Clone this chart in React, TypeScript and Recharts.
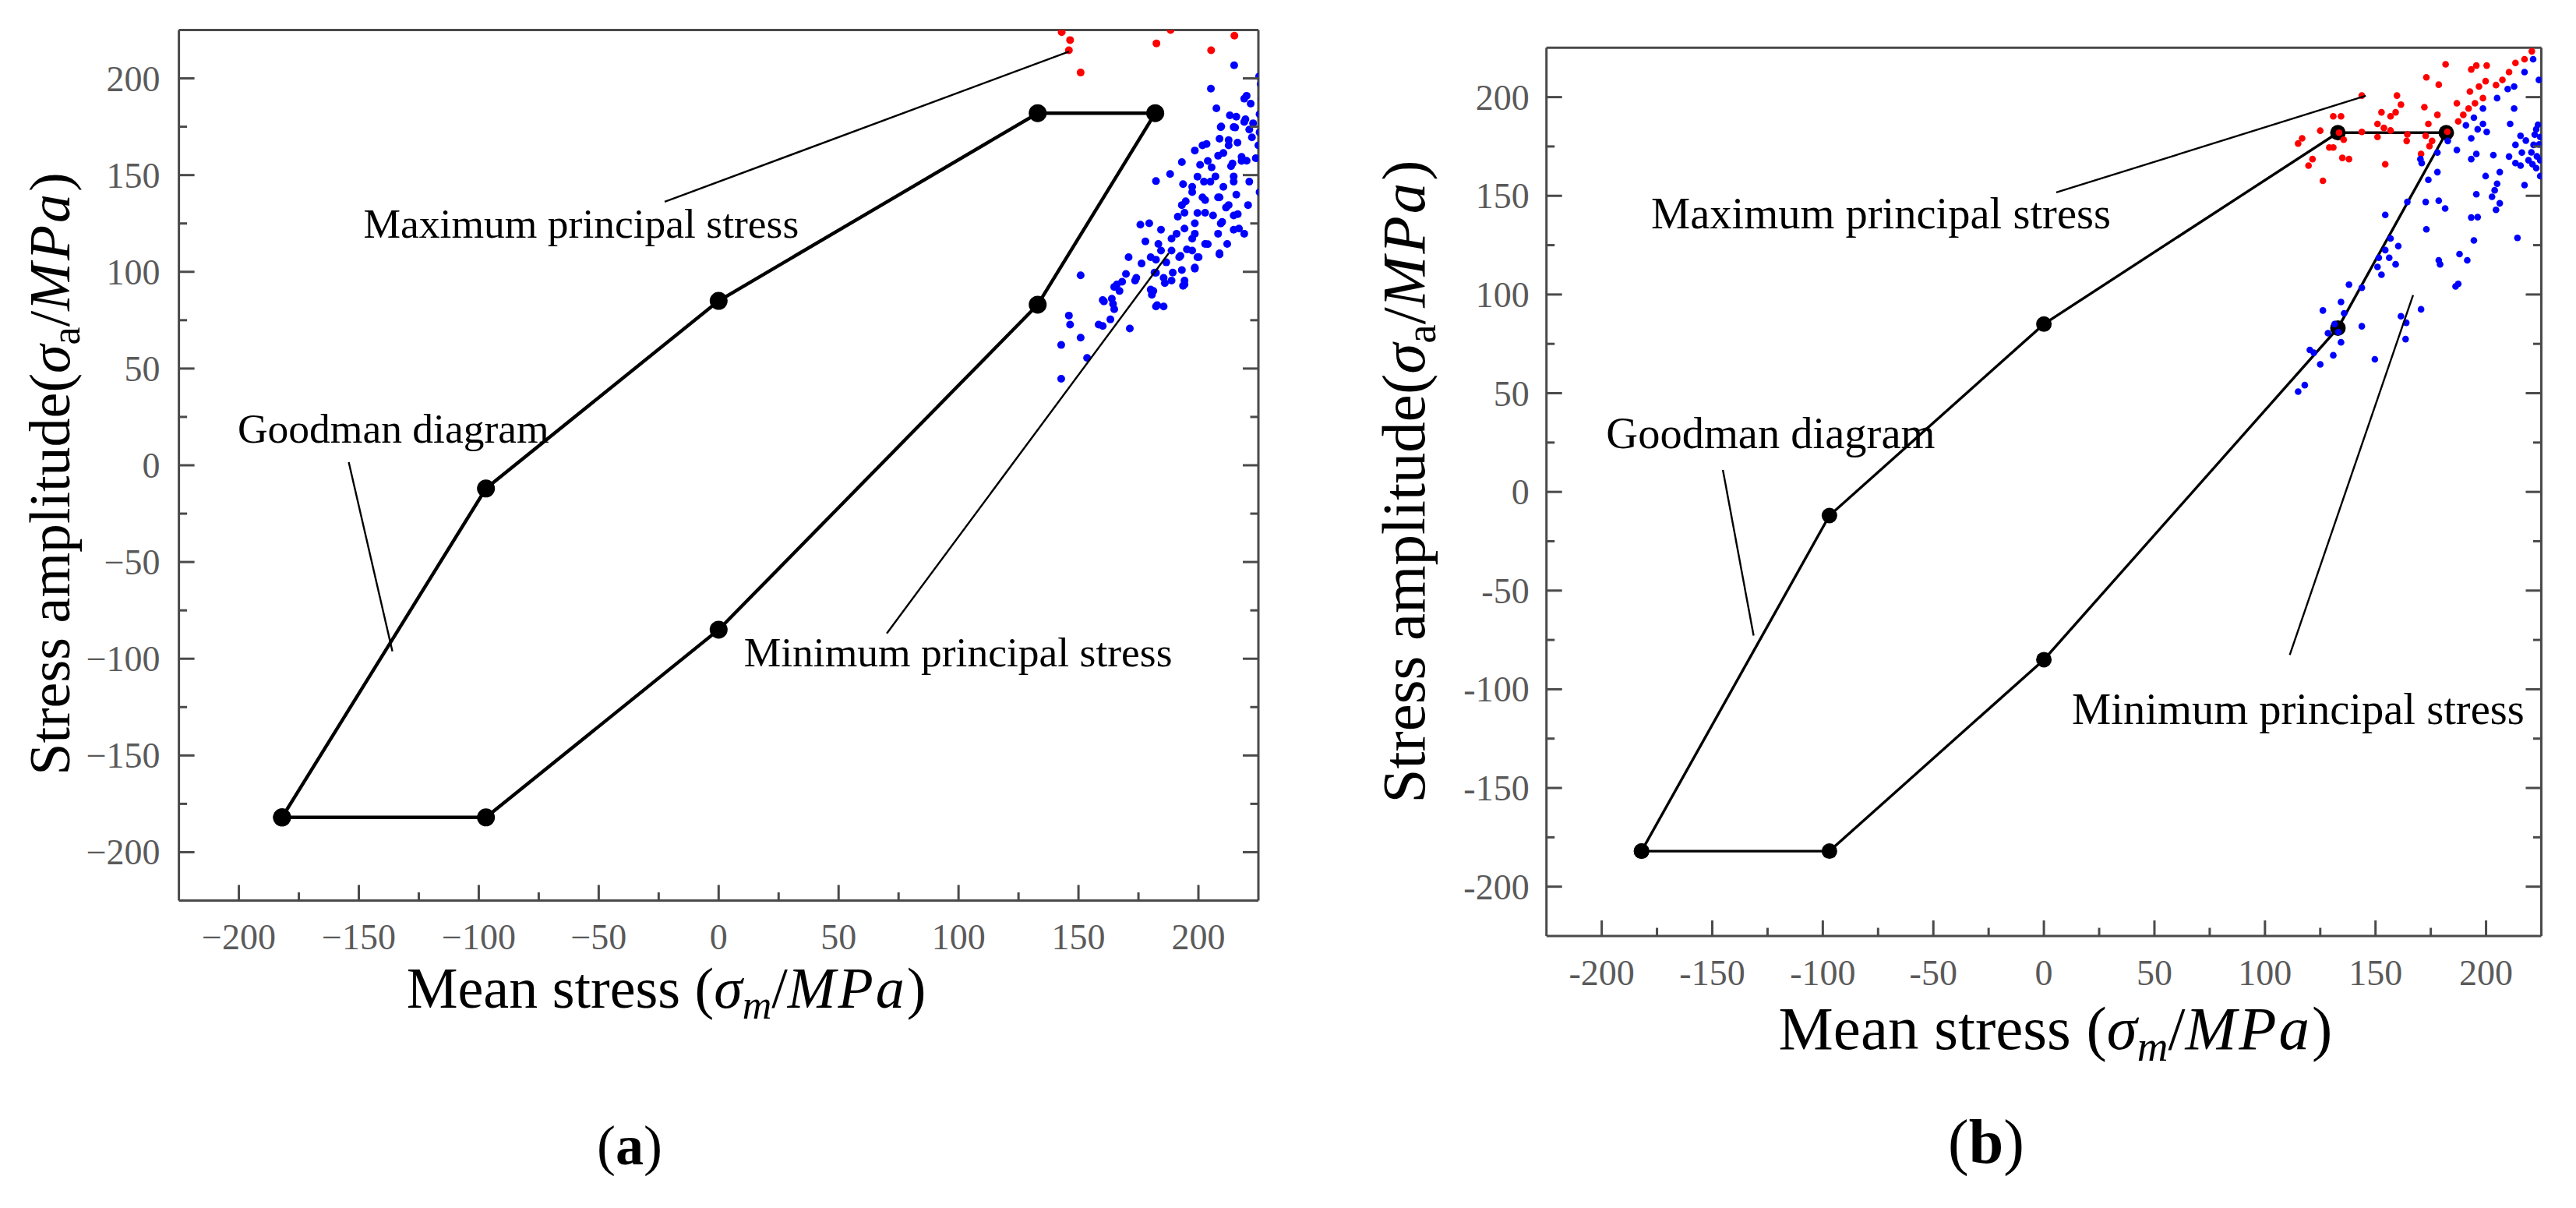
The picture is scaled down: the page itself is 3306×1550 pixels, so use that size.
import React from 'react';
import { ScatterChart, Scatter, XAxis, YAxis, ReferenceLine, ReferenceDot } from 'recharts';

const FONT = '"Liberation Serif", "Times New Roman", serif';

// ---------- axes ----------
const tickValues = [-200, -175, -150, -125, -100, -75, -50, -25, 0, 25, 50, 75, 100, 125, 150, 175, 200];
const majorTickValues = [-200, -150, -100, -50, 0, 50, 100, 150, 200];
const tickLabelsA = ['\u2212200', '\u2212150', '\u2212100', '\u221250', '0', '50', '100', '150', '200'];
const tickLabelsB = ['-200', '-150', '-100', '-50', '0', '50', '100', '150', '200'];

// ---------- Goodman diagram (closed polygon) ----------
const goodmanMean = [-182, -97, 0, 133, 182, 133, 0, -97, -182];
const goodmanAmp = [-182, -182, -85, 83, 182, 182, 85, -12, -182];

// ---------- panel (a) ----------
const maxStressA = [
  [143, 223.9], [146.5, 219.8], [146, 214.5], [150.9, 203], [188.4, 225], [182.5, 218.1], [205.3, 214.5], [215, 222.1],
];
const minStressA = [
  [214.9, 206.8], [225.3, 201], [226, 197], [205.2, 194.7], [220.1, 191], [226.4, 189.3], [221.8, 186.9], [207.5, 184.5],
  [225.5, 181.5], [213.1, 180.9], [215.8, 180.2], [219.6, 178.9], [222.8, 176.8], [209.5, 175.1], [215.3, 174.6], [221.2, 173.5],
  [225.5, 172.1], [203.4, 166.1], [198.5, 162.7], [208.8, 168.8], [212.6, 165.4], [216.3, 166.8], [222.3, 169.5], [225, 165.4],
  [210.4, 161.4], [218, 159.4], [193.1, 156.7], [200.7, 155.3], [205.5, 154], [214.2, 156], [220.1, 157.4], [223.9, 158.7],
  [188.2, 150.6], [182.3, 146.9], [193.6, 145.3], [197.4, 143.9], [202.3, 146.6], [207.1, 149.3], [214.7, 149.3], [221.2, 146.6],
  [225.5, 141.2], [201.7, 138.5], [208.8, 138.5], [215.8, 139.9], [194.7, 136.5], [211.5, 133.2], [220.7, 134.5], [194.2, 130.5],
  [202.8, 130.5], [216.4, 129.8], [175.8, 124.4], [179.5, 125.1], [191.4, 128.5], [198.5, 125.1], [209.9, 125.8], [184.4, 121.8],
  [194.2, 122.4], [214.7, 121.8], [219.1, 119.7], [177.9, 115.7], [183.3, 114.4], [188.8, 117.1], [197.4, 117.1], [202.8, 114.4],
  [208.2, 119.7], [212, 114.4],
  [170.9, 107.6], [176.3, 104.3], [180.1, 107.6], [184.4, 111], [188.8, 111], [192.5, 108.3], [197.4, 111], [200.1, 107.6],
  [208.8, 109], [198.5, 101.6], [150.9, 98.2], [169.8, 98.9], [174.1, 96.9], [168.2, 94.9], [181.7, 99.6], [185.5, 96.9],
  [189.3, 99.6], [194.2, 95.5], [186, 94.2], [164.9, 92.2], [167.1, 90.1], [180.1, 90.8], [180.6, 88.1], [193.6, 92.8],
  [160.1, 85.4], [164.4, 83.4], [164.9, 80.7], [182.8, 82.8], [185.5, 82.1], [146, 77.4], [163.3, 75.4], [146.5, 72.7],
  [160.1, 72], [171.4, 70.7], [150.9, 66], [142.8, 62.2], [153.6, 55.5], [142.8, 44.7],
  [219.1, 189.5], [214.7, 174.8], [209.3, 174.8], [219.1, 177.5], [212.6, 168.1], [201.7, 165.4], [203.9, 157.3], [208.2, 160],
  [213.6, 154.6], [218, 157.3], [199.6, 149.2], [205, 146.6], [210.4, 143.9], [214.7, 146.6], [197.4, 141.2], [202.8, 137.1],
  [208.2, 138.5], [212.6, 134.5], [193.1, 134.5], [199.6, 130.4], [206.1, 129.1], [214.7, 129.1], [216.9, 122.4], [209.3, 125],
  [190.9, 119.7], [198.5, 119.7], [203.9, 114.3], [208.8, 109.6], [195.2, 111.6], [182.3, 106.3], [186.6, 104.9], [192, 107.6],
  [199.6, 107.6], [193.1, 100.9], [198.5, 102.2], [173.6, 95.5], [182.3, 99.5], [188.8, 95.5], [194.2, 93.5], [166, 93.5],
  [181.2, 90.1], [182.3, 82.1], [163.9, 86.1], [160.6, 84.7], [158.4, 72.7],
];

// ---------- panel (b) ----------
const maxStressB = [
  [220.7, 223.2], [217.4, 219.2], [213.3, 217.3], [210.4, 212.7], [207.4, 208.7], [204.5, 206.1], [200.3, 216], [195.6, 216],
  [193.3, 214], [199.8, 208.1], [196.8, 205.4], [192.7, 202.8], [198.6, 199.5], [195, 196.9], [192.1, 194.2], [189.7, 191],
  [187.4, 187.7], [186.8, 196.9], [181.7, 216.6], [173, 210], [178.6, 206.3], [172.1, 194.9], [178, 191], [173.9, 186.4],
  [172.7, 180.4], [175.6, 177.8], [174.4, 175.2], [170.6, 171.2], [164.4, 181.1], [164.1, 177.8], [159.7, 200.8], [161.5, 196.2],
  [159.1, 192.3], [156.8, 190.3], [152.7, 192.3], [150.9, 186.4], [153.8, 184.4], [156.8, 183.1], [150.9, 179.8], [143.8, 182.4],
  [143.8, 200.8], [154.4, 166], [135.6, 178.4], [129.1, 174.5], [130.9, 190.3], [134.4, 190.3], [125, 183], [116.8, 179.1],
  [115, 176.5], [121.5, 168.6], [119.7, 165.3], [135, 169.2], [138, 168.6], [126.2, 157.6], [130.9, 174.5], [133.5, 182],
  [182.5, 182.5],
];
const minStressB = [
  [221.3, 219.2], [223.9, 208.7], [217.4, 212.7], [212.7, 205.4], [209.8, 204.1], [205, 199.5], [212.7, 194.2], [198.6, 194.2],
  [194.5, 189.6], [190.9, 185.7], [198.6, 186.4], [196.2, 183.7], [200.3, 182.4], [210.9, 186.4], [222.7, 183.7], [224.5, 179.8],
  [221.5, 175.8], [215.6, 180.4], [213.3, 175.8], [216.2, 171.9], [219.2, 168], [222.7, 164], [213.3, 166.6], [210.4, 169.9],
  [215.6, 165.3], [224.5, 160], [193.3, 179.1], [182.7, 177.8], [186.8, 173.2], [195.6, 171.2], [193.3, 168.6], [203.3, 170.6],
  [178, 171.9], [170.9, 166.6], [178, 162], [173.9, 158.1], [199.8, 160], [206.2, 162], [205, 156.1], [203.9, 152.8],
  [217.4, 155.4], [195.6, 150.8], [202.7, 149.5], [206.2, 146.2], [204.5, 142.9], [178.6, 147.5], [181.5, 143.6], [172.7, 146.9],
  [164.4, 146.9], [154.4, 140.3], [193.3, 139], [196.2, 139.2], [173, 133], [194.5, 127.4], [214.2, 128.7], [156.8, 128.4],
  [154.4, 122.5], [160.3, 124.5], [151.5, 118.6], [156.2, 118.6], [159.1, 115.3], [150.9, 114], [178.6, 117.3], [179.2, 115.3],
  [188, 120.5], [191.5, 117.3], [152.7, 110], [138, 105], [143.8, 103.4], [186.2, 104.1], [187.4, 105.4], [170.3, 168.6],
  [134.4, 96.2], [126.2, 91.9], [135.8, 90.5], [131.5, 85], [128.5, 80.4], [134.4, 75.8], [120.3, 71.9], [122.1, 70.5],
  [130.9, 69.2], [125, 64.6], [118, 54.1], [115, 50.8], [143.8, 83.9], [149.7, 67.2], [161.5, 89], [163.9, 85.7],
  [163.6, 77.4], [170.6, 92.5], [133.2, 81],
  [223.5, 186], [222, 181], [224, 176], [220.5, 172], [223, 170], [218, 178], [221, 166], [224.5, 168],
];

// ---------- annotations (data coordinates) ----------
const annotationTexts = ['Maximum principal stress', 'Goodman diagram', 'Minimum principal stress'];
const annotationPosA = [[-57.3, 117.8], [-135.6, 11.8], [99.8, -104.1]];
const annotationPosB = [[-73.7, 133.7], [-123.6, 22.1], [115.0, -117.6]];
const leadersA = [[-22.5, 136.2, 146.1, 213.9], [-154.2, 1.6, -136.0, -96.2], [70.1, -86.9, 187.6, 109.6]];
const leadersB = [[5.6, 151.7, 145.6, 200.7], [-145.2, 11.1, -131.3, -72.8], [111.2, -82.6, 167.0, 99.7]];

const toPts = (arr: number[][]) => arr.map(([x, y]) => ({ x, y }));
const polygonPts = goodmanMean.map((x, i) => ({ x, y: goodmanAmp[i] }));

type Style = {
  left: number; width: number;
  margin: { top: number; right: number; bottom: number; left: number };
  labels: string[]; tickFont: number; xLabelDy: number; yLabelDx: number;
  polyR: number; polyW: number; dotR: number; annFont: number; leaderW: number;
};

// margins are 1px smaller than the plot offsets because each axis reserves 1px
const styleA: Style = {
  left: 0, width: 1650,
  margin: { top: 37.5, right: 34, bottom: 393.5, left: 228.6 },
  labels: tickLabelsA, tickFont: 46, xLabelDy: 62, yLabelDx: 24,
  polyR: 11.5, polyW: 4.4, dotR: 5, annFont: 53.5, leaderW: 2.4,
};
const styleB: Style = {
  left: 1653, width: 1653,
  margin: { top: 60.3, right: 43.5, bottom: 348, left: 330.7 },
  labels: tickLabelsB, tickFont: 46, xLabelDy: 63, yLabelDx: 22,
  polyR: 10, polyW: 3.4, dotR: 4.3, annFont: 56.5, leaderW: 2.4,
};

const AX = '#4a4a4a';
const LABEL = '#5a5a5a';
const MAJOR = 20;
const MINOR = 10.5;

function makeTick(side: 'bottom' | 'top' | 'left' | 'right', st: Style) {
  return (props: any) => {
    const { x, y, payload } = props;
    const v = payload.value;
    const mi = majorTickValues.indexOf(v);
    const len = mi >= 0 ? MAJOR : MINOR;
    let line;
    let label = null;
    if (side === 'bottom') {
      line = <line x1={x} y1={y} x2={x} y2={y - len} stroke={AX} strokeWidth={3} />;
      if (mi >= 0)
        label = (
          <text x={x} y={y + st.xLabelDy} textAnchor="middle" fontSize={st.tickFont} fill={LABEL} fontFamily={FONT}>
            {st.labels[mi]}
          </text>
        );
    } else if (side === 'top') {
      line = <line x1={x} y1={y} x2={x} y2={y + len} stroke={AX} strokeWidth={3} />;
    } else if (side === 'left') {
      line = <line x1={x} y1={y} x2={x + len} y2={y} stroke={AX} strokeWidth={3} />;
      if (mi >= 0)
        label = (
          <text x={x - st.yLabelDx} y={y + 16} textAnchor="end" fontSize={st.tickFont} fill={LABEL} fontFamily={FONT}>
            {st.labels[mi]}
          </text>
        );
    } else {
      line = <line x1={x} y1={y} x2={x - len} y2={y} stroke={AX} strokeWidth={3} />;
    }
    return (
      <g>
        {line}
        {label}
      </g>
    );
  };
}

const dotShape = (r: number, fill: string) => (props: any) =>
  props.cx == null ? <g /> : <circle cx={props.cx} cy={props.cy} r={r} fill={fill} />;

function Panel({ st, red, blue, annPos, leaders }: { st: Style; red: number[][]; blue: number[][]; annPos: number[][]; leaders: number[][] }) {
  const axisLine = { stroke: AX, strokeWidth: 3 };
  const common = {
    type: 'number' as const,
    domain: [-225, 225] as [number, number],
    allowDataOverflow: true,
    ticks: tickValues,
    interval: 0 as const,
    tickSize: 0,
    tickMargin: 0,
    tickLine: false,
    axisLine,
  };
  return (
    <div style={{ position: 'absolute', left: st.left, top: 0, width: st.width, height: 1550 }}>
      <ScatterChart width={st.width} height={1550} margin={st.margin}>
        <XAxis xAxisId="b" dataKey="x" orientation="bottom" height={1} {...common} tick={makeTick('bottom', st)} />
        <XAxis xAxisId="t" orientation="top" height={1} {...common} tick={makeTick('top', st)} />
        <YAxis yAxisId="l" dataKey="y" orientation="left" width={1} {...common} tick={makeTick('left', st)} />
        <YAxis yAxisId="r" orientation="right" width={1} {...common} tick={makeTick('right', st)} />
        <Scatter
          xAxisId="b"
          yAxisId="l"
          data={polygonPts}
          fill="#000"
          line={{ stroke: '#000', strokeWidth: st.polyW }}
          lineType="joint"
          shape={dotShape(st.polyR, '#000')}
          isAnimationActive={false}
        />
        <Scatter xAxisId="b" yAxisId="l" data={toPts(red)} fill="#ff0000" shape={dotShape(st.dotR, '#ff0000')} isAnimationActive={false} />
        <Scatter xAxisId="b" yAxisId="l" data={toPts(blue)} fill="#0000ff" shape={dotShape(st.dotR, '#0000ff')} isAnimationActive={false} />
        {leaders.map((l, i) => (
          <ReferenceLine
            key={'l' + i}
            xAxisId="b"
            yAxisId="l"
            segment={[{ x: l[0], y: l[1] }, { x: l[2], y: l[3] }]}
            stroke="#000"
            strokeWidth={st.leaderW}
            zIndex={900}
          />
        ))}
        {annPos.map((p, i) => (
          <ReferenceDot
            key={'a' + i}
            xAxisId="b"
            yAxisId="l"
            x={p[0]}
            y={p[1]}
            r={0}
            zIndex={950}
            shape={(sp: any) => (
              <text x={sp.cx} y={sp.cy} textAnchor="middle" fontSize={st.annFont} fill="#000" fontFamily={FONT}>
                {annotationTexts[i]}
              </text>
            )}
          />
        ))}
      </ScatterChart>
    </div>
  );
}

function Titles() {
  return (
    <svg width={3306} height={1550} style={{ position: 'absolute', left: 0, top: 0, pointerEvents: 'none' }}>
      {/* panel (a) */}
      <text x={855} y={1293} textAnchor="middle" fontSize={74} fontFamily={FONT} fill="#000">
        Mean stress (<tspan fontStyle="italic">σ</tspan>
        <tspan fontStyle="italic" fontSize={52} dy={14}>m</tspan>
        <tspan dy={-14}>/</tspan>
        <tspan fontStyle="italic" letterSpacing={3}>MPa</tspan>)
      </text>
      <text transform="translate(89,608) rotate(-90)" textAnchor="middle" fontSize={74} fontFamily={FONT} fill="#000">
        Stress amplitude(<tspan fontStyle="italic">σ</tspan>
        <tspan fontSize={52} dy={13}>a</tspan>
        <tspan dy={-13}>/</tspan>
        <tspan fontStyle="italic" letterSpacing={3}>MPa</tspan>)
      </text>
      <text x={808} y={1494} textAnchor="middle" fontSize={72} fontFamily={FONT} fill="#000">
        (<tspan fontWeight="bold">a</tspan>)
      </text>
      {/* panel (b) */}
      <text x={2638} y={1346} textAnchor="middle" fontSize={79} fontFamily={FONT} fill="#000">
        Mean stress (<tspan fontStyle="italic">σ</tspan>
        <tspan fontStyle="italic" fontSize={55} dy={15}>m</tspan>
        <tspan dy={-15}>/</tspan>
        <tspan fontStyle="italic" letterSpacing={3}>MPa</tspan>)
      </text>
      <text transform="translate(1828,618) rotate(-90)" textAnchor="middle" fontSize={79} fontFamily={FONT} fill="#000">
        Stress amplitude(<tspan fontStyle="italic">σ</tspan>
        <tspan fontSize={55} dy={14}>a</tspan>
        <tspan dy={-14}>/</tspan>
        <tspan fontStyle="italic" letterSpacing={3}>MPa</tspan>)
      </text>
      <text x={2549} y={1492} textAnchor="middle" fontSize={80} fontFamily={FONT} fill="#000">
        (<tspan fontWeight="bold">b</tspan>)
      </text>
    </svg>
  );
}

export default function App() {
  return (
    <div style={{ position: 'absolute', left: 0, top: 0, width: 3306, height: 1550, background: '#fff', overflow: 'hidden' }}>
      <Panel st={styleA} red={maxStressA} blue={minStressA} annPos={annotationPosA} leaders={leadersA} />
      <Panel st={styleB} red={maxStressB} blue={minStressB} annPos={annotationPosB} leaders={leadersB} />
      <Titles />
    </div>
  );
}
